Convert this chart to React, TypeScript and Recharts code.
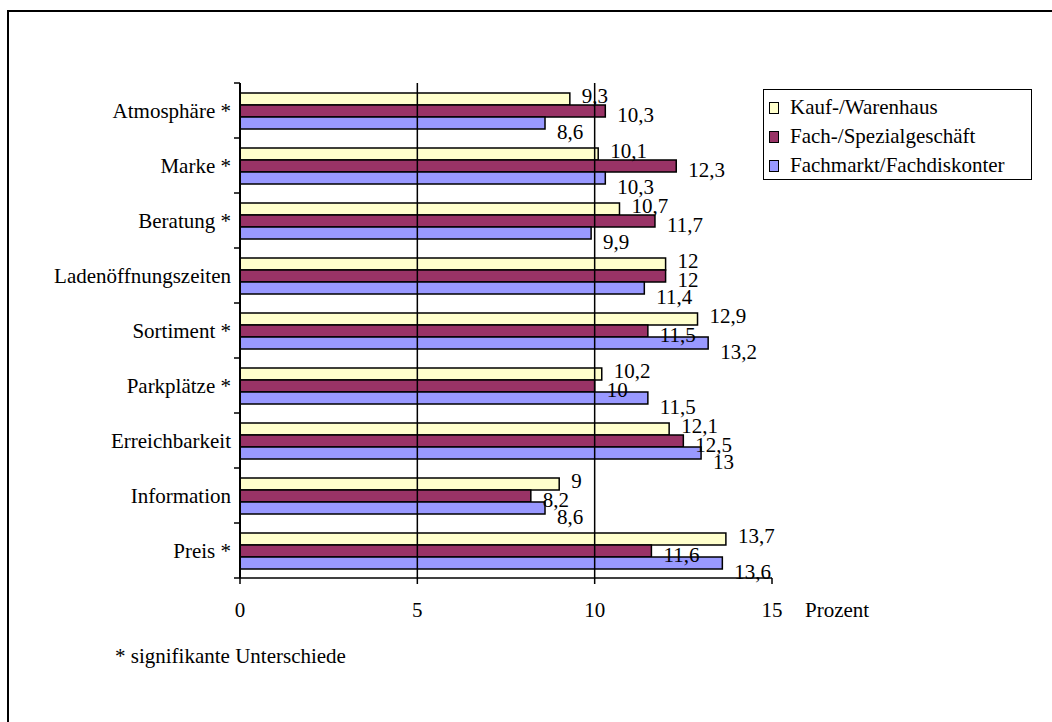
import {
  BarChart, Bar, XAxis, YAxis, ReferenceLine, LabelList,
} from 'recharts'

// ── Data ────────────────────────────────────────────────────────────────────
const categories = [
  'Atmosphäre *',
  'Marke *',
  'Beratung *',
  'Ladenöffnungszeiten',
  'Sortiment *',
  'Parkplätze *',
  'Erreichbarkeit',
  'Information',
  'Preis *',
]
const kaufWarenhaus = [9.3, 10.1, 10.7, 12, 12.9, 10.2, 12.1, 9, 13.7]
const fachSpezial = [10.3, 12.3, 11.7, 12, 11.5, 10, 12.5, 8.2, 11.6]
const fachmarkt = [8.6, 10.3, 9.9, 11.4, 13.2, 11.5, 13, 8.6, 13.6]
const xTicks = [0, 5, 10, 15]
const gridValues = [5, 10]

const SERIES = [
  { key: 'kauf', name: 'Kauf-/Warenhaus', color: '#FFFFCC', labelDy: -3 },
  { key: 'fach', name: 'Fach-/Spezialgeschäft', color: '#993366', labelDy: 4 },
  { key: 'markt', name: 'Fachmarkt/Fachdiskonter', color: '#9999FF', labelDy: 9 },
]

const data = categories.map((c, i) => ({
  name: c,
  kauf: kaufWarenhaus[i],
  fach: fachSpezial[i],
  markt: fachmarkt[i],
}))

// ── Layout ──────────────────────────────────────────────────────────────────
const W = 1052
const H = 722
const PLOT_LEFT = 240
const PLOT_TOP = 83
const PLOT_RIGHT = 772
const PLOT_BOTTOM = 578
const X_AXIS_H = 30
const HALF_BAND = (PLOT_BOTTOM - PLOT_TOP) / categories.length / 2

const FONT = '"Liberation Serif", Tinos, "Times New Roman", "DejaVu Serif", serif'
const fmt = (v: number) => String(v).replace('.', ',')

// Category tick: label plus the boundary tick marks drawn between groups
const CategoryTick = ({ x, y, payload, index }: any) => (
  <g>
    <text x={x} y={y} dy="0.355em" textAnchor="end" fontFamily={FONT} fontSize={21} fill="#000">
      {payload.value}
    </text>
    <line x1={PLOT_LEFT - 6} x2={PLOT_LEFT} y1={y - HALF_BAND} y2={y - HALF_BAND} stroke="#000" strokeWidth={1.5} />
    {index === categories.length - 1 && (
      <line x1={PLOT_LEFT - 6} x2={PLOT_LEFT} y1={y + HALF_BAND} y2={y + HALF_BAND} stroke="#000" strokeWidth={1.5} />
    )}
  </g>
)

const makeValueLabel = (dy: number) => (props: any) => {
  const { x, y, width, height, value } = props
  return (
    <text x={x + width + 12} y={y + height / 2 + dy} dy="0.355em" fontFamily={FONT} fontSize={21} fill="#000">
      {fmt(value)}
    </text>
  )
}

const LegendBox = () => (
  <div style={{
    position: 'absolute', left: 763, top: 89,
    border: '1.5px solid #000', width: 269, height: 91, boxSizing: 'border-box',
    padding: '3px 0 0 5px', fontFamily: FONT, fontSize: 21, color: '#000', background: '#fff',
  }}>
    {SERIES.map(s => (
      <div key={s.key} style={{ display: 'flex', alignItems: 'center', height: 29, lineHeight: '29px' }}>
        <span style={{
          width: 8, height: 10, border: '1.5px solid #000', background: s.color,
          marginRight: 11, flexShrink: 0,
        }} />
        <span style={{ whiteSpace: 'nowrap' }}>{s.name}</span>
      </div>
    ))}
  </div>
)

export default function App() {
  return (
    <div style={{ position: 'absolute', left: 0, top: 0, width: W, height: H, background: '#fff', overflow: 'hidden' }}>
      {/* chart frame (only top and left edges fall inside the picture) */}
      <div style={{
        position: 'absolute', left: 7, top: 10, width: W + 20, height: H + 20,
        borderTop: '2px solid #000', borderLeft: '2px solid #000',
      }} />

      <div style={{ position: 'absolute', left: 0, top: 0 }}>
        <BarChart
          width={W}
          height={H}
          data={data}
          layout="vertical"
          margin={{ top: PLOT_TOP, right: W - PLOT_RIGHT, left: 0, bottom: H - PLOT_BOTTOM - X_AXIS_H }}
          barGap={0}
          barSize={12}
        >
          <XAxis
            type="number"
            domain={[0, 15]}
            ticks={xTicks}
            height={X_AXIS_H}
            tickSize={6}
            tickMargin={18}
            axisLine={{ stroke: '#000', strokeWidth: 1.5 }}
            tickLine={{ stroke: '#000', strokeWidth: 1.5 }}
            tick={{ fill: '#000', fontSize: 21, fontFamily: FONT }}
          />
          <YAxis
            type="category"
            dataKey="name"
            width={PLOT_LEFT}
            tickSize={6}
            tickMargin={3}
            tickLine={false}
            axisLine={{ stroke: '#000', strokeWidth: 2 }}
            tick={<CategoryTick />}
            interval={0}
          />
          {gridValues.map(v => (
            <ReferenceLine key={v} x={v} stroke="#000" strokeWidth={1.5} />
          ))}
          {SERIES.map(s => (
            <Bar
              key={s.key}
              dataKey={s.key}
              name={s.name}
              fill={s.color}
              stroke="#000"
              strokeWidth={1.5}
              isAnimationActive={false}
            >
              <LabelList dataKey={s.key} content={makeValueLabel(s.labelDy)} />
            </Bar>
          ))}
        </BarChart>
      </div>

      <LegendBox />

      <div style={{ position: 'absolute', left: 805, top: 598, fontFamily: FONT, fontSize: 21, lineHeight: '24px', color: '#000' }}>
        Prozent
      </div>
      <div style={{ position: 'absolute', left: 115, top: 644, fontFamily: FONT, fontSize: 21, lineHeight: '24px', color: '#000' }}>
        * signifikante Unterschiede
      </div>
    </div>
  )
}
